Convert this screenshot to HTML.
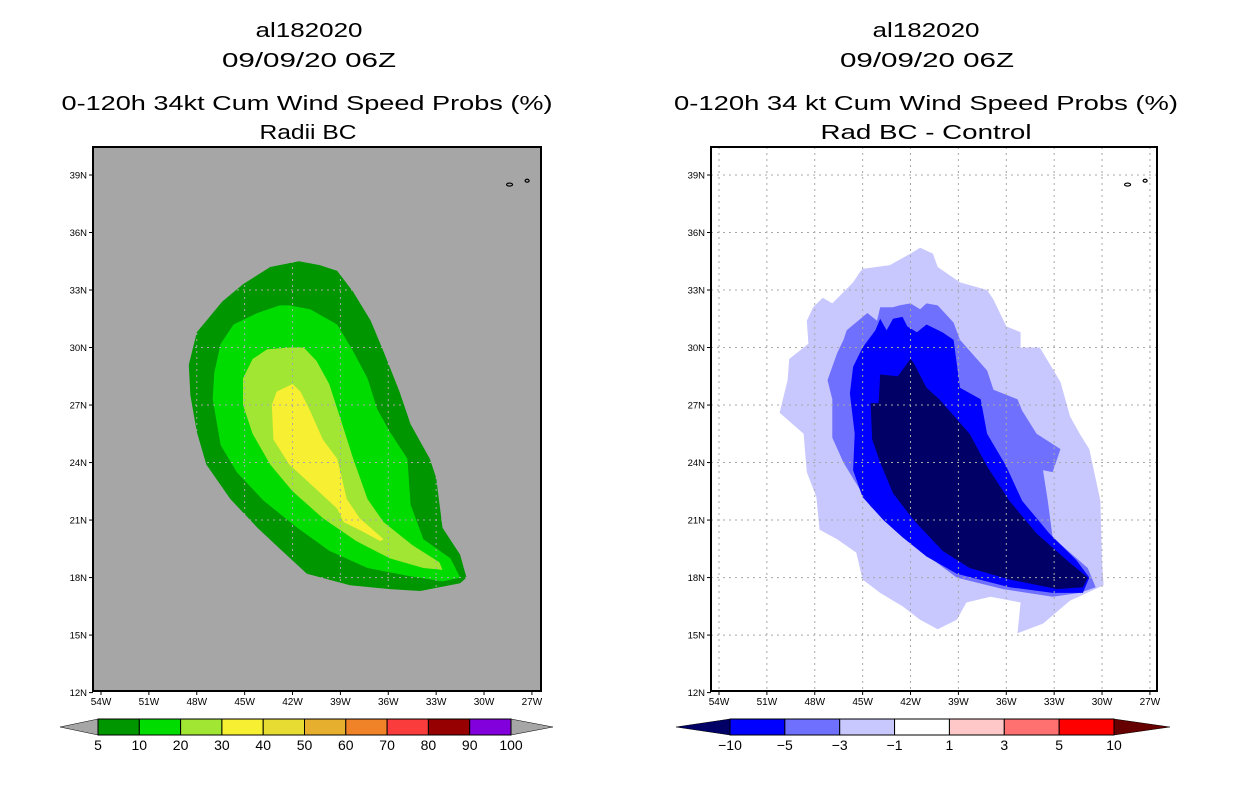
<!DOCTYPE html>
<html><head><meta charset="utf-8"><style>
html,body{margin:0;padding:0;background:#fff;}
svg{display:block;font-family:"Liberation Sans",sans-serif;}
</style></head><body>
<svg id="fig" width="1236" height="800" viewBox="0 0 1236 800" xmlns="http://www.w3.org/2000/svg">
<g font-size="20" fill="#000">
<text x="309" y="37" text-anchor="middle" textLength="107" lengthAdjust="spacingAndGlyphs">al182020</text>
<text x="309" y="67" text-anchor="middle" textLength="174" lengthAdjust="spacingAndGlyphs">09/09/20 06Z</text>
<text x="307" y="110" text-anchor="middle" textLength="491" lengthAdjust="spacingAndGlyphs">0-120h 34kt Cum Wind Speed Probs (%)</text>
<text x="308" y="139" text-anchor="middle" textLength="97" lengthAdjust="spacingAndGlyphs">Radii BC</text>
</g>
<g font-size="20" fill="#000">
<text x="926" y="37" text-anchor="middle" textLength="107" lengthAdjust="spacingAndGlyphs">al182020</text>
<text x="927" y="67" text-anchor="middle" textLength="174" lengthAdjust="spacingAndGlyphs">09/09/20 06Z</text>
<text x="926" y="110" text-anchor="middle" textLength="504" lengthAdjust="spacingAndGlyphs">0-120h 34 kt Cum Wind Speed Probs (%)</text>
<text x="926" y="139" text-anchor="middle" textLength="211" lengthAdjust="spacingAndGlyphs">Rad BC - Control</text>
</g>
<g id="left"></g>
<g id="right"></g>
<g id="cbars"></g>
</svg>
<script>
const NS="http://www.w3.org/2000/svg";
const lonTicks=[-54,-51,-48,-45,-42,-39,-36,-33,-30,-27];
const lonLabels=["54W","51W","48W","45W","42W","39W","36W","33W","30W","27W"];
const latTicks=[39,36,33,30,27,24,21,18,15,12];
const latLabels=["39N","36N","33N","30N","27N","24N","21N","18N","15N","12N"];
const probLevels=["5","10","20","30","40","50","60","70","80","90","100"];
const probColors=["#009600","#00dc00","#a0e632","#f7ef32","#e6dc32","#e6af2d","#f08228","#fa3c3c","#960000","#8200dc"];
const diffLevels=["-10","-5","-3","-1","1","3","5","10"];
const diffColors=["#0000ff","#7070ff","#c8c8ff","#ffffff","#ffc8c8","#ff7070","#ff0000"];
// left contours (lon, lat)
const prob5=[[-41.6,34.5],[-43.4,34.2],[-45.1,33.3],[-46.4,32.4],[-48.0,30.8],[-48.5,29.1],[-48.4,27.5],[-48.0,25.6],[-47.4,23.9],[-45.9,22.1],[-44.2,20.6],[-42.8,19.5],[-41.1,18.2],[-38.4,17.6],[-35.9,17.4],[-34.0,17.3],[-31.5,17.7],[-31.1,18.0],[-31.5,19.2],[-32.6,20.6],[-33.0,23.2],[-33.4,24.2],[-34.6,26.0],[-35.3,27.7],[-36.3,29.8],[-37.1,31.4],[-38.2,32.9],[-39.2,34.0],[-40.3,34.3]];
const prob10=[[-42.8,32.2],[-44.2,31.8],[-45.7,31.2],[-46.5,30.2],[-46.9,28.7],[-47.0,27.3],[-46.5,24.9],[-45.5,23.5],[-43.8,22.0],[-41.7,20.6],[-39.7,19.4],[-37.3,18.5],[-34.8,18.1],[-32.6,17.8],[-31.5,18.0],[-32.1,19.0],[-33.8,20.0],[-34.6,21.8],[-34.8,24.2],[-35.9,25.6],[-36.7,26.8],[-37.3,28.4],[-38.2,29.8],[-39.2,31.2],[-40.9,32.0],[-42.2,32.2]];
const prob20=[[-42.2,30.0],[-43.6,29.9],[-44.5,29.4],[-45.1,28.4],[-45.1,27.0],[-44.5,25.5],[-43.4,23.9],[-42.0,22.5],[-40.1,21.1],[-38.0,19.9],[-35.9,19.0],[-33.8,18.5],[-32.6,18.4],[-32.8,18.8],[-34.5,19.7],[-36.3,20.9],[-37.3,22.1],[-38.2,24.2],[-39.0,26.3],[-39.7,28.1],[-40.5,29.3],[-41.3,30.0]];
const prob30=[[-42.0,28.1],[-43.0,27.7],[-43.3,27.0],[-43.2,25.2],[-42.2,23.9],[-40.9,22.9],[-39.2,21.6],[-38.8,20.9],[-37.6,20.4],[-36.5,19.9],[-36.3,20.0],[-37.8,21.1],[-38.6,22.1],[-39.2,24.2],[-40.1,25.2],[-40.9,26.7],[-41.5,27.7]];
// right contours (lon, lat)
const diffM1=[[-41.4,35.2],[-42.0,34.9],[-43.3,34.3],[-45.0,34.1],[-45.2,33.9],[-45.6,33.4],[-46.9,32.3],[-47.5,32.6],[-48.1,32.1],[-48.5,31.4],[-48.4,30.2],[-49.6,29.4],[-49.7,28.3],[-50.2,26.6],[-48.7,25.5],[-48.5,23.5],[-47.9,22.2],[-47.7,20.5],[-46.6,20.0],[-45.4,19.3],[-45.0,17.9],[-43.9,17.2],[-42.5,16.5],[-41.4,15.8],[-40.3,15.3],[-39.1,15.8],[-38.5,16.7],[-37.0,17.0],[-35.1,16.7],[-35.3,15.1],[-33.7,15.6],[-32.0,16.8],[-29.9,17.6],[-30.0,18.9],[-30.1,22.0],[-30.8,24.7],[-31.4,25.5],[-32.0,26.4],[-32.6,28.2],[-33.9,30.0],[-35.1,30.0],[-35.1,30.8],[-36.0,31.1],[-36.8,32.5],[-37.2,33.0],[-38.9,33.4],[-40.3,34.2],[-40.6,34.9]];
const diffM3=[[-44.1,31.4],[-44.7,31.8],[-46.0,30.9],[-46.2,30.4],[-46.6,29.7],[-47.2,28.3],[-46.9,27.3],[-46.9,25.3],[-46.2,24.0],[-45.4,22.9],[-44.5,21.7],[-42.5,20.3],[-41.2,19.3],[-39.1,18.0],[-36.2,17.4],[-33.1,17.0],[-31.4,17.2],[-30.4,17.5],[-30.9,18.5],[-32.0,19.3],[-33.1,20.1],[-33.4,22.0],[-33.7,23.6],[-33.1,23.5],[-32.6,24.7],[-34.1,25.5],[-35.0,26.7],[-35.3,27.3],[-36.8,27.8],[-37.2,28.8],[-38.9,30.4],[-39.3,31.3],[-40.3,32.2],[-41.0,32.3],[-41.4,32.0],[-42.0,32.3],[-42.7,32.2],[-43.1,32.1],[-43.9,32.1]];
const diffM5=[[-43.9,31.5],[-44.2,30.9],[-45.0,30.0],[-45.6,29.0],[-45.8,27.6],[-45.5,25.5],[-45.6,23.6],[-45.0,22.2],[-43.7,21.0],[-42.5,20.1],[-41.0,19.1],[-39.1,18.2],[-35.8,17.5],[-33.1,17.2],[-31.2,17.2],[-30.8,18.0],[-31.6,18.9],[-33.3,20.3],[-35.0,22.0],[-36.0,23.8],[-37.2,25.5],[-37.6,27.3],[-38.9,27.9],[-39.3,30.4],[-40.0,30.8],[-41.0,31.2],[-41.6,30.8],[-42.2,31.1],[-42.5,31.6],[-43.1,31.5],[-43.5,30.9]];
const diffM10=[[-42.0,29.4],[-42.8,28.5],[-43.9,28.6],[-44.0,27.1],[-44.5,27.1],[-44.4,25.2],[-43.9,24.0],[-43.1,22.4],[-41.8,21.0],[-40.0,19.4],[-38.3,18.5],[-35.8,17.9],[-32.8,17.4],[-31.2,17.5],[-30.9,18.0],[-32.2,18.9],[-34.1,20.3],[-35.8,22.0],[-37.2,23.8],[-38.3,25.5],[-40.2,27.3],[-41.0,27.9],[-41.8,29.2]];

const X0=[101,719], PXD=15.96, PYD=19.17, Y39=175;
function xs(p,lon){return X0[p]+(lon+54)*PXD;}
function ys(lat){return Y39+(39-lat)*PYD;}
function el(tag,attrs,parent){const e=document.createElementNS(NS,tag);for(const k in attrs)e.setAttribute(k,attrs[k]);parent.appendChild(e);return e;}
function poly(p,pts,fill,parent,name){
  const e=el('polygon',{points:pts.map(q=>xs(p,q[0]).toFixed(1)+','+ys(q[1]).toFixed(1)).join(' '),fill:fill},parent);
  
  
}
function drawMap(p,g,bg,frame){
  const fr=el('rect',{x:frame[0],y:frame[1],width:frame[2]-frame[0],height:frame[3]-frame[1],fill:bg},g);
  
  
  return fr;
}
function drawGrid(p,g,frame){
  lonTicks.forEach((lon,i)=>{const x=xs(p,lon);
    const l=el('line',{x1:x,x2:x,y1:frame[1],y2:frame[3],stroke:'#a8a8a8','stroke-width':1,'stroke-dasharray':'2,4'},g);
    
    
    const t=el('text',{x:x,y:frame[3]+14,'font-size':10,'text-anchor':'middle'},g);t.textContent=lonLabels[i];
    
    
    el('line',{x1:x,x2:x,y1:frame[3],y2:frame[3]+4,stroke:'#000'},g);
  });
  latTicks.forEach((lat,i)=>{const y=ys(lat);
    if(lat>12){const l=el('line',{x1:frame[0],x2:frame[2],y1:y,y2:y,stroke:'#a8a8a8','stroke-width':1,'stroke-dasharray':'2,4'},g);
    
    }
    const t=el('text',{x:frame[0]-6,y:y+3.5,'font-size':9.5,'text-anchor':'end'},g);t.textContent=latLabels[i];
    
    
    el('line',{x1:frame[0]-4,x2:frame[0],y1:y,y2:y,stroke:'#000'},g);
  });
}
function islands(p,g){
  const a=el('ellipse',{cx:xs(p,-28.4),cy:ys(38.5),rx:3,ry:1.5,fill:'none',stroke:'#000','stroke-width':1.2},g);
  
  
  const b=el('ellipse',{cx:xs(p,-27.3),cy:ys(38.7),rx:2,ry:1.5,fill:'none',stroke:'#000','stroke-width':1.2},g);
  
  
}
function frameRect(g,frame){
  const r=el('rect',{x:frame[0],y:frame[1],width:frame[2]-frame[0],height:frame[3]-frame[1],fill:'none',stroke:'#000','stroke-width':2},g);
  
  
}
// left
const LF=[93,147,541,691], RF=[711,147,1157,691];
const gl=document.getElementById('left');
drawMap(0,gl,'#a6a6a6',LF);
poly(0,prob5,probColors[0],gl,'prob-5-contour');
poly(0,prob10,probColors[1],gl,'prob-10-contour');
poly(0,prob20,probColors[2],gl,'prob-20-contour');
poly(0,prob30,probColors[3],gl,'prob-30-contour');
drawGrid(0,gl,LF);islands(0,gl);frameRect(gl,LF);
// right
const gr=document.getElementById('right');
drawMap(1,gr,'#ffffff',RF);
poly(1,diffM1,diffColors[2],gr,'diff-minus1-contour');
poly(1,diffM3,diffColors[1],gr,'diff-minus3-contour');
poly(1,diffM5,diffColors[0],gr,'diff-minus5-contour');
poly(1,diffM10,'#000066',gr,'diff-minus10-contour');
drawGrid(1,gr,RF);islands(1,gr);frameRect(gr,RF);
// colorbars
const cb=document.getElementById('cbars');
function colorbar(x0,x1,tipL,tipR,colors,levels,lc,rc,name){
  const y0=719,y1=735,ym=727,w=(x1-x0)/colors.length;
  const g=el('g',{},cb);
  
  
  el('polygon',{points:`${tipL},${ym} ${x0},${y0} ${x0},${y1}`,fill:lc,stroke:'#000','stroke-width':0.5},g);
  el('polygon',{points:`${tipR},${ym} ${x1},${y0} ${x1},${y1}`,fill:rc,stroke:'#000','stroke-width':0.5},g);
  colors.forEach((c,i)=>{const r=el('rect',{x:x0+i*w,y:y0,width:w,height:y1-y0,fill:c,stroke:'#000','stroke-width':1},g);
    
    });
  levels.forEach((l,i)=>{const t=el('text',{x:x0+i*w,y:750,'font-size':14,'text-anchor':'middle'},g);t.textContent=l.replace('-','\u2212');
    
    });
}
colorbar(98,511,60,553,probColors,probLevels,'#a6a6a6','#a6a6a6','prob-colorbar');
colorbar(730,1114,676,1170,diffColors,diffLevels,'#000066','#660000','diff-colorbar');
</script>
</body></html>
